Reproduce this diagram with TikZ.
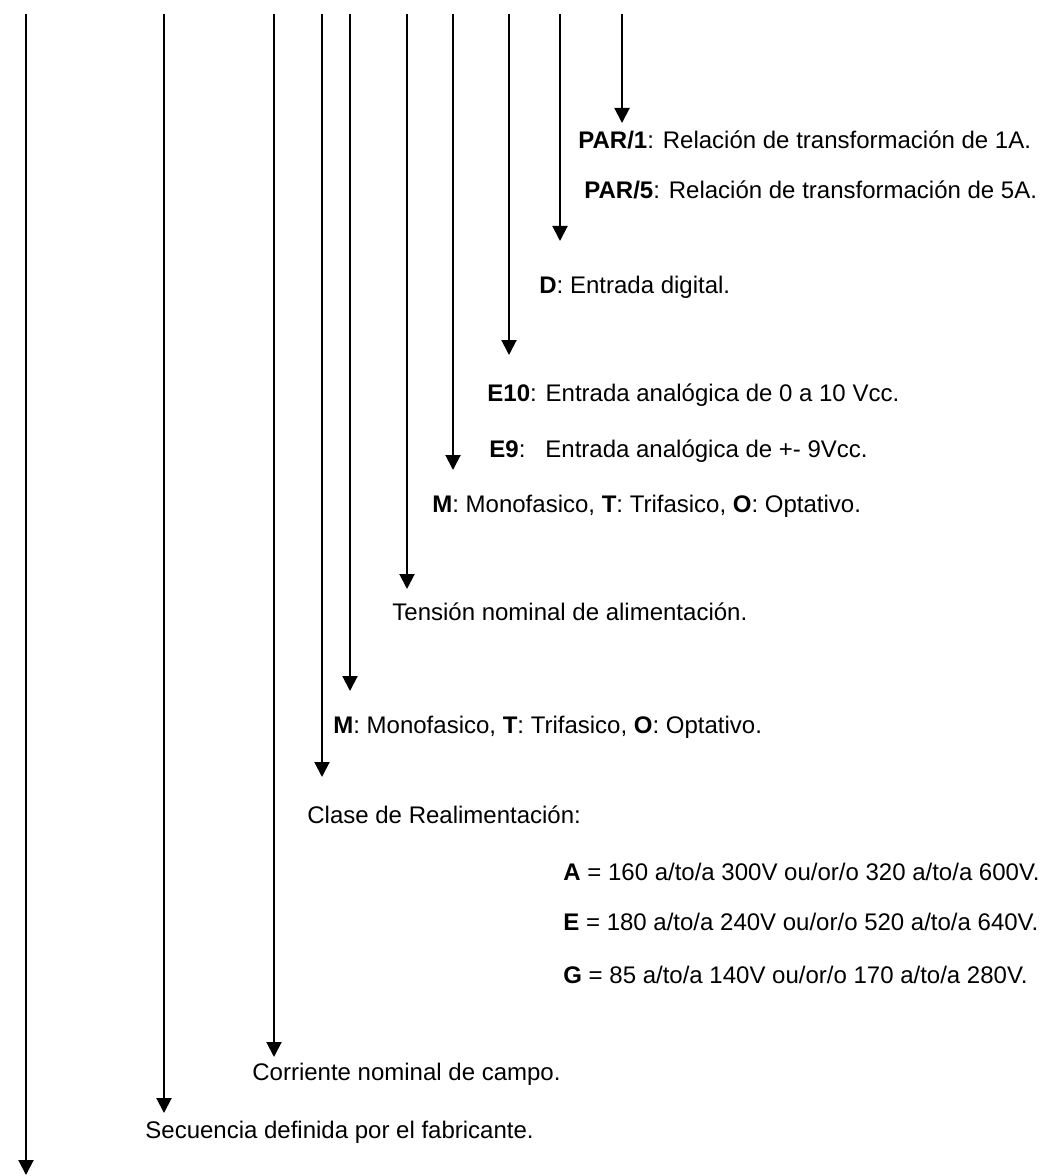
\documentclass[tikz,border=0pt]{standalone}
\usepackage{fontspec}
\setmainfont{Liberation Sans}
\usetikzlibrary{arrows.meta}
\usetikzlibrary{positioning}

\begin{document}
\begin{tikzpicture}[x=0.5pt,y=-0.5pt,
  lead/.style={black,line width=1pt,-{Triangle[length=7.5pt,width=7.5pt]}},
  lbl/.style={font=\fontsize{12}{14}\selectfont,text=black,anchor=base west,inner sep=0pt}]
\useasboundingbox (0,0) rectangle (1042,1176);
% tops of the code lines
\foreach \n/\x in {a/26,b/164,c/274,d/322,e/350,f/407,g/453,h/509,i/560,j/622}
  \coordinate (top\n) at (\x,14);
% arrow tips
\coordinate (tipa) at (26,1175);
\coordinate (tipb) at (164,1113);
\coordinate (tipc) at (274,1057);
\coordinate (tipd) at (322,777);
\coordinate (tipe) at (350,691);
\coordinate (tipf) at (407,589);
\coordinate (tipg) at (453,470);
\coordinate (tiph) at (509,355);
\coordinate (tipi) at (560,241);
\coordinate (tipj) at (622,123);
\foreach \n in {a,b,c,d,e,f,g,h,i,j}
  \draw[lead] (top\n) -- (tip\n);

\node[lbl] (par1) at (578,149) {\textbf{PAR/1}: Relación de transformación de 1A.};
\node[lbl] (par5) at (584,199) {\textbf{PAR/5}: Relación de transformación de 5A.};
\node[lbl] (dig) at (539,293) {\textbf{D}: Entrada digital.};
\node[lbl] (e10) at (487,401) {\textbf{E10}: Entrada analógica de 0 a 10 Vcc.};
\node[lbl] (e9) at (489,457) {\textbf{E9}:\ \ \ Entrada analógica de +- 9Vcc.};
\node[lbl] (fase1) at (432,512) {\textbf{M}: Monofasico, \textbf{T}: Trifasico, \textbf{O}: Optativo.};
\node[lbl] (tens) at (392,620) {Tensión nominal de alimentación.};
\node[lbl] (fase2) at (333,733) {\textbf{M}: Monofasico, \textbf{T}: Trifasico, \textbf{O}: Optativo.};
\node[lbl] (clase) at (307,823) {Clase de Realimentación:};
\node[lbl] (clA) at (563,880) {\textbf{A} = 160 a/to/a 300V ou/or/o 320 a/to/a 600V.};
\node[lbl] (clE) at (563,930) {\textbf{E} = 180 a/to/a 240V ou/or/o 520 a/to/a 640V.};
\node[lbl] (clG) at (563,983) {\textbf{G} = 85 a/to/a 140V ou/or/o 170 a/to/a 280V.};
\node[lbl] (campo) at (252,1080) {Corriente nominal de campo.};
\node[lbl] (secu) at (145,1138) {Secuencia definida por el fabricante.};

\end{tikzpicture}
\end{document}
